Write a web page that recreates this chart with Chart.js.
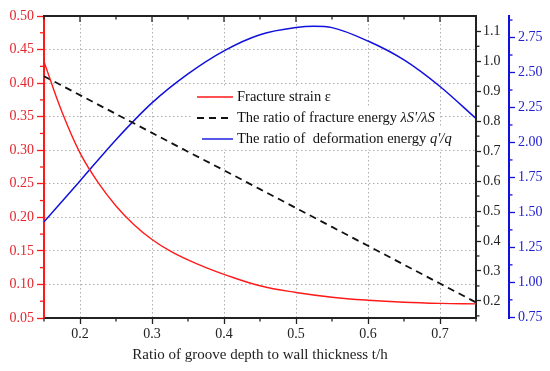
<!DOCTYPE html>
<html><head><meta charset="utf-8">
<script src="https://cdn.jsdelivr.net/npm/chart.js@4/dist/chart.umd.min.js"></script>
<style>html,body{margin:0;padding:0;background:#fff}canvas{display:block}</style>
</head><body>
<canvas id="c" width="550" height="371"></canvas>
<script>
// ---- data ----
const strainX = [0.15,0.175,0.2,0.225,0.25,0.275,0.3,0.325,0.35,0.375,0.4,0.45,0.5,0.55,0.6,0.65,0.7,0.75];
const strainY = [0.432,0.357,0.296,0.252,0.217,0.189,0.167,0.150,0.1365,0.125,0.115,0.098,0.088,0.081,0.0765,0.0735,0.0718,0.071];
const fractureX = [0.15,0.2,0.25,0.3,0.35,0.4,0.45,0.5,0.55,0.6,0.65,0.7,0.75];
const fractureY = [0.95,0.887,0.824,0.761,0.698,0.636,0.573,0.51,0.447,0.384,0.321,0.258,0.195];
const deformX = [0.15,0.2,0.25,0.3,0.35,0.4,0.45,0.5,0.525,0.55,0.6,0.65,0.7,0.75];
const deformY = [1.433,1.725,2.02,2.283,2.49,2.655,2.77,2.821,2.83,2.821,2.725,2.59,2.40,2.171];

// ---- tick labels ----
const xTicks = [0.2,0.3,0.4,0.5,0.6,0.7];
const xMinor = [0.15,0.25,0.35,0.45,0.55,0.65,0.75];
const leftTicks = [0.05,0.10,0.15,0.20,0.25,0.30,0.35,0.40,0.45,0.50];
const leftMinor = [0.075,0.125,0.175,0.225,0.275,0.325,0.375,0.425,0.475];
const midTicks = [0.2,0.3,0.4,0.5,0.6,0.7,0.8,0.9,1.0,1.1];
const midMinor = [0.15,0.25,0.35,0.45,0.55,0.65,0.75,0.85,0.95,1.05];
const blueTicks = [0.75,1.00,1.25,1.50,1.75,2.00,2.25,2.50,2.75];
const blueMinor = [0.875,1.125,1.375,1.625,1.875,2.125,2.375,2.625,2.875];

const xTitle = 'Ratio of groove depth to wall thickness t/h';
const legendItems = [
  {text:'Fracture strain ε', ital:'', color:'#ff1a1a', dash:[]},
  {text:'The ratio of fracture energy ', ital:"λS'/λS", color:'#111', dash:[7,5]},
  {text:'The ratio of  deformation energy ', ital:"q'/q", color:'#1010dd', dash:[]}
];

const RED = '#ff1a1a', REDT = '#e4262e', BLUE = '#1010dd', BLUET = '#2222cc', BLK = '#222';
const FONT = 'Liberation Serif';
const LFS = 14.5;
Chart.defaults.font.family = FONT;

const pts = (xs, ys) => xs.map((x, i) => ({x, y: ys[i]}));
const setTicks = arr => scale => { scale.ticks = arr.map(v => ({value: v})); };
const gridDash = [1.5, 2.5];

const framePlugin = {
  id: 'frame',
  afterDatasetsDraw(chart) {
    const {ctx} = chart;
    ctx.save();
    ctx.textBaseline = 'middle';
    const lx0 = 197, lx1 = 233, tx = 237, ys = [97, 118, 139];
    const f = LFS + 'px "' + FONT + '"', fi = 'italic ' + LFS + 'px "' + FONT + '"';
    legendItems.forEach((it, i) => {
      ctx.font = f;
      let w = ctx.measureText(it.text).width;
      ctx.font = fi;
      w += ctx.measureText(it.ital).width;
      ctx.fillStyle = '#fff';
      ctx.fillRect(lx0 - 4, ys[i] - 11, tx - lx0 + 4 + w + 4, 21);
    });
    legendItems.forEach((it, i) => {
      ctx.strokeStyle = it.color; ctx.lineWidth = it.dash.length ? 1.8 : 1.4;
      ctx.setLineDash(it.dash);
      ctx.beginPath(); ctx.moveTo(i === 2 ? lx0 + 5 : lx0, ys[i]); ctx.lineTo(lx1, ys[i]); ctx.stroke();
      ctx.setLineDash([]);
      ctx.fillStyle = '#111';
      ctx.font = f;
      ctx.fillText(it.text, tx, ys[i]);
      const w = ctx.measureText(it.text).width;
      ctx.font = fi;
      ctx.fillText(it.ital, tx + w, ys[i]);
    });
    ctx.restore();
  },
  afterDraw(chart) {
    const {ctx, chartArea: a, scales} = chart;
    ctx.save();
    const line = (x1, y1, x2, y2, c, w) => {
      ctx.strokeStyle = c; ctx.lineWidth = w;
      ctx.beginPath(); ctx.moveTo(x1, y1); ctx.lineTo(x2, y2); ctx.stroke();
    };
    line(a.left - 1, a.top, a.right + 1, a.top, BLK, 2);
    xTicks.forEach(v => { const p = scales.x.getPixelForValue(v); line(p, a.top, p, a.top + 6, BLK, 1.3); });
    xMinor.forEach(v => {
      const p = scales.x.getPixelForValue(v);
      line(p, a.top, p, a.top + 3.5, BLK, 1.3);
      line(p, a.bottom, p, a.bottom + 3.5, BLK, 1.3);
    });
    leftMinor.forEach(v => { const p = scales.y.getPixelForValue(v); line(a.left - 4, p, a.left, p, RED, 1.3); });
    midMinor.forEach(v => { const p = scales.y1.getPixelForValue(v); line(a.right, p, a.right + 3.5, p, BLK, 1.3); });
    const bx = scales.y2.left;
    blueMinor.forEach(v => { const p = scales.y2.getPixelForValue(v); line(bx, p, bx + 3.5, p, BLUE, 1.3); });
    ctx.restore();
  }
};

new Chart(document.getElementById('c'), {
  type: 'line',
  data: {
    datasets: [
      {data: pts(strainX, strainY), yAxisID: 'y', borderColor: RED, borderWidth: 1.4,
       pointRadius: 0, tension: 0.4, fill: false},
      {data: pts(fractureX, fractureY), yAxisID: 'y1', borderColor: '#111', borderWidth: 1.8,
       borderDash: [7, 5], pointRadius: 0, tension: 0, fill: false},
      {data: pts(deformX, deformY), yAxisID: 'y2', borderColor: BLUE, borderWidth: 1.5,
       pointRadius: 0, cubicInterpolationMode: 'monotone', fill: false}
    ]
  },
  options: {
    responsive: false, animation: false, devicePixelRatio: 1,
    layout: {padding: 0},
    plugins: {legend: {display: false}, tooltip: {enabled: false}},
    scales: {
      x: {
        type: 'linear', position: 'bottom', min: 0.15, max: 0.75,
        afterBuildTicks: setTicks(xTicks),
        afterFit: s => { s.height = 53; },
        ticks: {callback: v => v.toFixed(1), color: BLK, font: {size: 14}, padding: 2, maxRotation: 0},
        grid: {color: '#b0b0b0', lineWidth: 1, tickLength: 6, tickColor: BLK, tickWidth: 1.3},
        border: {color: BLK, width: 2, dash: gridDash},
        title: {display: true, text: xTitle, color: BLK, font: {size: 15}, padding: {top: 7, bottom: 7}}
      },
      xTop: {
        type: 'linear', position: 'top', min: 0.15, max: 0.75,
        afterFit: s => { s.height = 16; },
        ticks: {display: false},
        grid: {display: false, drawOnChartArea: false, drawTicks: false},
        border: {display: false}
      },
      y: {
        type: 'linear', position: 'left', min: 0.05, max: 0.5,
        afterBuildTicks: setTicks(leftTicks),
        afterFit: s => { s.width = 44; },
        ticks: {callback: v => v.toFixed(2), color: REDT, font: {size: 14}, padding: 3},
        grid: {color: c => (c.tick && (c.tick.value <= 0.05 || c.tick.value >= 0.5)) ? 'rgba(0,0,0,0)' : '#b0b0b0',
               lineWidth: 1, tickLength: 7, tickColor: RED, tickWidth: 1.3},
        border: {color: RED, width: 2, dash: gridDash}
      },
      y1: {
        type: 'linear', position: 'right', min: 0.143, max: 1.151,
        afterBuildTicks: setTicks(midTicks),
        afterFit: s => { s.width = 33; },
        ticks: {callback: v => v.toFixed(1), color: BLK, font: {size: 14}, padding: 2},
        grid: {drawOnChartArea: false, tickLength: 5, tickColor: BLK, tickWidth: 1.3},
        border: {color: BLK, width: 2}
      },
      y2: {
        type: 'linear', position: 'right', min: 0.745, max: 2.904,
        afterBuildTicks: setTicks(blueTicks),
        afterFit: s => { s.width = 41; },
        ticks: {callback: v => v.toFixed(2), color: BLUET, font: {size: 14}, padding: 3},
        grid: {drawOnChartArea: false, tickLength: 6, tickColor: BLUE, tickWidth: 1.3},
        border: {color: BLUE, width: 2}
      }
    }
  },
  plugins: [framePlugin]
});
</script>
</body></html>
